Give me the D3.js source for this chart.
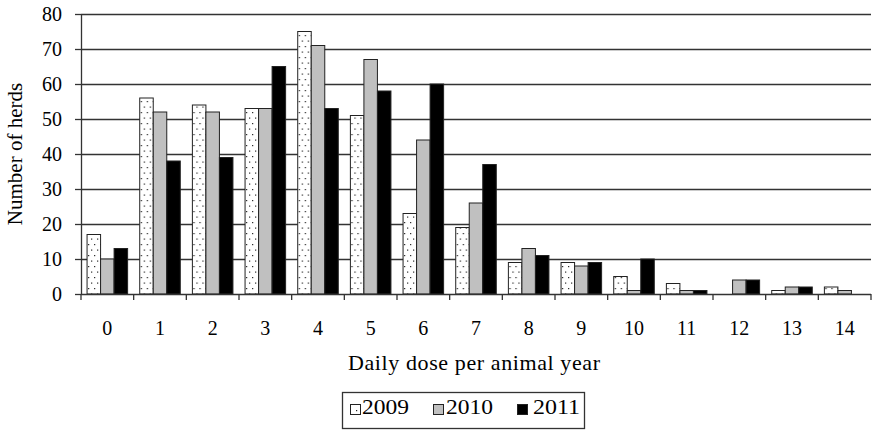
<!DOCTYPE html>
<html>
<head>
<meta charset="utf-8">
<script src="https://cdn.jsdelivr.net/npm/d3@7"></script>
<style>
  html, body { margin: 0; padding: 0; background: #fff; }
  svg { display: block; }
  text { font-family: "Liberation Serif", "Times New Roman", serif; fill: #000; }
</style>
</head>
<body>
<svg id="chart" width="873" height="431"></svg>
<script>
const categories = ["0","1","2","3","4","5","6","7","8","9","10","11","12","13","14"];
const seriesNames = ["2009","2010","2011"];
const values2009 = [17, 56, 54, 53, 75, 51, 23, 19, 9, 9, 5, 3, 0, 1, 2];
const values2010 = [10, 52, 52, 53, 71, 67, 44, 26, 13, 8, 1, 1, 4, 2, 1];
const values2011 = [13, 38, 39, 65, 53, 58, 60, 37, 11, 9, 10, 1, 4, 2, 0];
const yTicks = [0, 10, 20, 30, 40, 50, 60, 70, 80];
const xTitle = "Daily dose per animal year";
const yTitle = "Number of herds";

const seriesValues = [values2009, values2010, values2011];
const fills = ["url(#dots)", "#c0c0c0", "#000000"];

const svg = d3.select("#chart");
const pLeft = 81, pRight = 871, pTop = 14, pBottom = 294;

// pattern for 2009
const defs = svg.append("defs");
const pat = defs.append("pattern").attr("id", "dots")
  .attr("patternUnits", "userSpaceOnUse").attr("width", 6).attr("height", 11);
pat.append("rect").attr("width", 6).attr("height", 11).attr("fill", "#fff");
pat.append("rect").attr("x", 1).attr("y", 2).attr("width", 1.2).attr("height", 1.2).attr("fill", "#222");
pat.append("rect").attr("x", 4).attr("y", 7.5).attr("width", 1.2).attr("height", 1.2).attr("fill", "#222");

const x0 = d3.scaleBand().domain(categories).range([pLeft, pRight])
  .paddingInner(0.23).paddingOuter(0.115);
const x1 = d3.scaleBand().domain(seriesNames).range([0, x0.bandwidth()]);
const y = d3.scaleLinear().domain([0, 80]).range([pBottom, pTop]);
const idx = d3.scaleLinear().domain([0, categories.length]).range([pLeft, pRight]);

// gridlines
svg.append("g").selectAll("line").data(yTicks.filter(d => d > 0)).join("line")
  .attr("x1", pLeft).attr("x2", pRight)
  .attr("y1", d => Math.round(y(d)) + 0.5).attr("y2", d => Math.round(y(d)) + 0.5)
  .attr("stroke", "#333").attr("stroke-width", 1.3);

// bars
const groups = svg.append("g").selectAll("g").data(categories).join("g")
  .attr("transform", c => `translate(${x0(c)},0)`);
groups.selectAll("rect")
  .data((c, i) => seriesNames.map((s, k) => ({s, k, v: seriesValues[k][i]})).filter(d => d.v > 0))
  .join("rect")
  .attr("x", d => x1(d.s))
  .attr("width", x1.bandwidth())
  .attr("y", d => y(d.v))
  .attr("height", d => y(0) - y(d.v))
  .attr("fill", d => fills[d.k])
  .attr("stroke", "#222").attr("stroke-width", 1);

// y axis
const yAxis = d3.axisLeft(y).tickValues(yTicks).tickSize(6).tickPadding(13).tickSizeOuter(0);
const gy = svg.append("g").attr("transform", `translate(${pLeft},0)`).call(yAxis);
gy.select(".domain").attr("stroke", "#333").attr("stroke-width", 1.3);
gy.selectAll(".tick line").attr("stroke", "#333").attr("stroke-width", 1.3);
gy.selectAll(".tick text").style("font-size", "20px").style("font-family", "Liberation Serif");

// x axis: labels at band centres
const xAxis = d3.axisBottom(x0).tickSize(0).tickPadding(27).tickSizeOuter(0);
const gx = svg.append("g").attr("transform", `translate(0,${pBottom})`).call(xAxis);
gx.select(".domain").remove();
gx.selectAll(".tick text").style("font-size", "20px").style("font-family", "Liberation Serif");
svg.append("line").attr("x1", pLeft).attr("x2", pRight).attr("y1", pBottom + 0.5).attr("y2", pBottom + 0.5)
  .attr("stroke", "#333").attr("stroke-width", 1.3);
// boundary ticks
svg.append("g").selectAll("line").data(d3.range(categories.length + 1)).join("line")
  .attr("x1", i => idx(i)).attr("x2", i => idx(i))
  .attr("y1", pBottom).attr("y2", pBottom + 6)
  .attr("stroke", "#333").attr("stroke-width", 1.3);

// titles
svg.append("text").attr("x", 474).attr("y", 370).attr("text-anchor", "middle")
  .style("font-size", "22px").attr("textLength", 252).attr("lengthAdjust", "spacing").text(xTitle);
svg.append("text").attr("transform", `translate(22,${(pTop + pBottom) / 2}) rotate(-90)`)
  .attr("text-anchor", "middle").style("font-size", "21px").text(yTitle);

// legend
const lg = svg.append("g");
lg.append("rect").attr("x", 342.5).attr("y", 392.5).attr("width", 242).attr("height", 36)
  .attr("fill", "#fff").attr("stroke", "#333").attr("stroke-width", 1.3);
const legX = [350, 433, 517];
const legTX = [362, 446, 533];
seriesNames.forEach((s, k) => {
  lg.append("rect").attr("x", legX[k] + 0.5).attr("y", 404.5).attr("width", 10).attr("height", 10)
    .attr("fill", k === 0 ? "#fff" : fills[k]).attr("stroke", "#222").attr("stroke-width", 1);
  if (k === 0) lg.append("rect").attr("x", legX[k] + 6).attr("y", 410).attr("width", 1.2).attr("height", 1.2).attr("fill", "#222");
  lg.append("text").attr("x", legTX[k]).attr("y", 414).style("font-size", "21px")
    .attr("textLength", 47).attr("lengthAdjust", "spacingAndGlyphs").text(s);
});
</script>
</body>
</html>
